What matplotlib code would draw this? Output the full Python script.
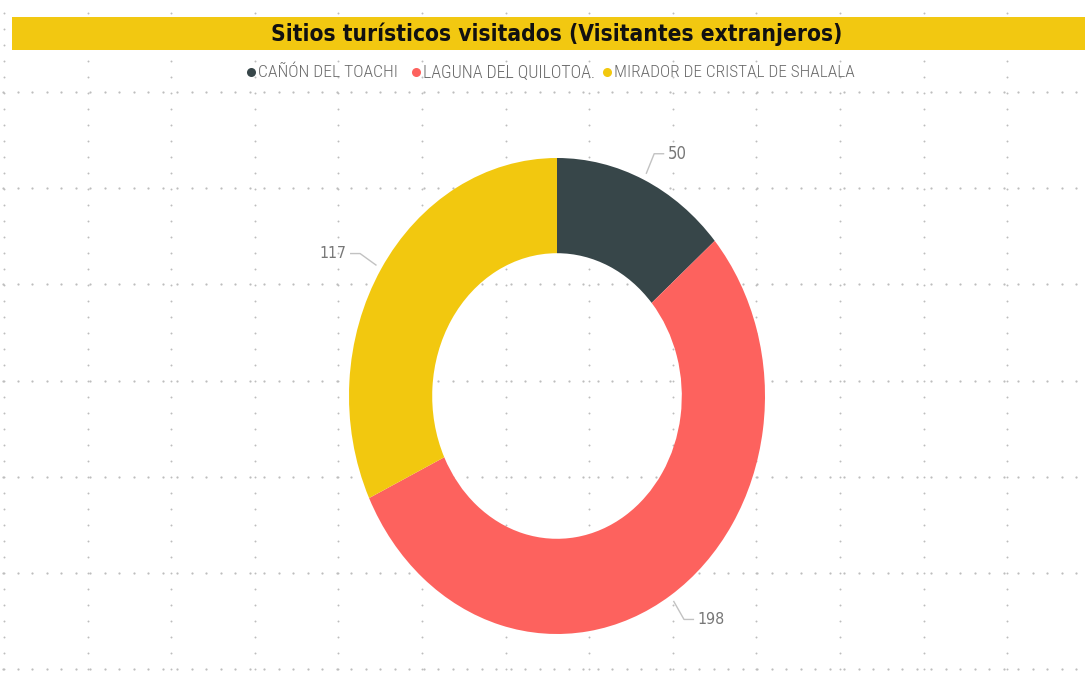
import matplotlib
matplotlib.use('Agg')
import os
import matplotlib.pyplot as plt
import numpy as np
from matplotlib import font_manager
from matplotlib.font_manager import FontProperties

# ---------------- data ----------------
categories = ['CAÑÓN DEL TOACHI', 'LAGUNA DEL QUILOTOA.', 'MIRADOR DE CRISTAL DE SHALALA']
values = [50, 198, 117]
colors = ['#374649', '#FD625E', '#F2C80F']
title = 'Sitios turísticos visitados (Visitantes extranjeros)'

# ---------------- fonts ----------------
files = [f.fname for f in font_manager.fontManager.ttflist]
base = {os.path.basename(p).lower(): p for p in files}


def pick(prefs, fallback_weight):
    for pat in prefs:
        for b, p in base.items():
            if pat in b:
                return FontProperties(fname=p), True
    return FontProperties(family=['Liberation Sans', 'DejaVu Sans'], weight=fallback_weight), False


fp_title, cond_t = pick(['liberationsansnarrow-bold.', 'dejavusanscondensed-bold.', 'robotocondensed-bold.',
                         'opensans-condensedbold', 'opensans_condensed-bold.', 'arialnarrow-bold'], 'bold')
fp_leg, cond_l = pick(['robotocondensed-light.', 'opensans_condensed-light.', 'opensans-condensedlight',
                       'liberationsansnarrow-regular.', 'dejavusanscondensed.', 'robotocondensed-regular.'], 'normal')
fp_lab, cond_b = pick(['liberationsansnarrow-regular.', 'dejavusanscondensed.', 'robotocondensed-regular.',
                       'opensans_condensed-regular.', 'opensans-condensed'], 'normal')

# ---------------- figure ----------------
W, H = 1085, 682
fig = plt.figure(figsize=(W / 100, H / 100), dpi=100)
fig.patch.set_facecolor('white')
bg = fig.add_axes([0, 0, 1, 1], zorder=0)
bg.set_xlim(0, W)
bg.set_ylim(H, 0)
bg.axis('off')
renderer = fig.canvas.get_renderer()


def fit(t, target_w, grow=1.0):
    w = t.get_window_extent(renderer).width
    t.set_fontsize(t.get_fontsize() * target_w / w * grow)
    return t


# dotted canvas grid (Power BI style)
dot_col = '#bdbdbd'
row_y = 92 + 96.2 * np.arange(7)
col_x = 4 + 83.6 * np.arange(13)
for y in row_y:
    xs = np.arange(3, W, 14.5)
    bg.plot(xs, np.full_like(xs, y), ls='none', marker='o', ms=1.6, mec='none', mfc=dot_col, zorder=1)
for x in col_x:
    ys = np.arange(13, H, 16.0)
    bg.plot(np.full_like(ys, x), ys, ls='none', marker='o', ms=1.4, mec='none', mfc=dot_col, zorder=1)

# title band
bg.add_patch(plt.Rectangle((12, 17), W - 12, 33, facecolor='#F2C811', edgecolor='none', zorder=2))
t = bg.text(557, 34.5, title, ha='center', va='center', fontproperties=fp_title,
            color='#111111', zorder=3)
t.set_fontsize(16)
fit(t, 571)

# legend
leg_dot_x = [251, 416, 607]
leg_w = [139, 172, 240]
for cx, lab, c, tw in zip(leg_dot_x, categories, colors, leg_w):
    bg.plot([cx], [72], marker='o', ms=6.5, mec='none', mfc=c, zorder=3)
    lt = bg.text(cx + 7, 72.5, lab, ha='left', va='center', fontproperties=fp_leg,
                 color='#6a6a6a', zorder=3)
    lt.set_fontsize(10)
    fit(lt, tw)

# ---------------- donut ----------------
cx0, cy0, rx, ry = 557, 396, 208, 238
ax = fig.add_axes([(cx0 - rx) / W, (H - cy0 - ry) / H, 2 * rx / W, 2 * ry / H], zorder=2)
ax.patch.set_alpha(0)
wedges, _ = ax.pie(values, colors=colors, startangle=90, counterclock=False, radius=1,
                   wedgeprops=dict(width=0.4, edgecolor='none', linewidth=0))
ax.set_aspect('auto')
ax.set_xlim(-1, 1)
ax.set_ylim(-1, 1)
ax.axis('off')

total = float(sum(values))
cum = np.cumsum([0] + values[:-1])
label_w = {50: 19, 198: 27, 117: 27}
for v, c0 in zip(values, cum):
    a = np.deg2rad(360 * (c0 + v / 2) / total)
    sx, sy = 1.03 * np.sin(a), 1.03 * np.cos(a)
    ex, ey = 1.12 * np.sin(a), 1.12 * np.cos(a)
    side = 1 if np.sin(a) >= 0 else -1
    hx = ex + side * 0.045
    ax.plot([sx, ex, hx], [sy, ey, ey], color='#c2c2c2', lw=1, clip_on=False)
    lt = ax.text(hx + side * 0.02, ey, str(v), ha='left' if side > 0 else 'right', va='center',
                 fontproperties=fp_lab, color='#777777', clip_on=False)
    lt.set_fontsize(13)
    fit(lt, label_w[v], 1.0 if cond_b else 1.12)

fig.savefig('out.png', dpi=100, facecolor='white')
